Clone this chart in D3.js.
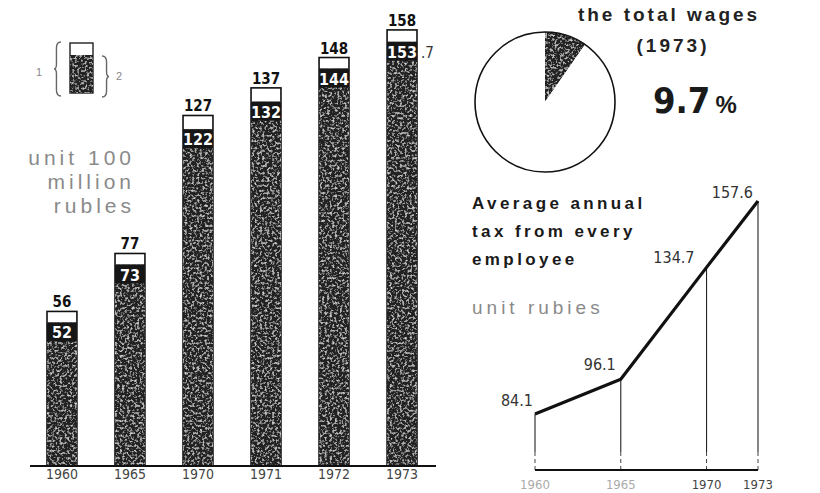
<!DOCTYPE html>
<html>
<head>
<meta charset="utf-8">
<script src="https://cdn.jsdelivr.net/npm/d3@7"></script>
<style>
  html, body { margin: 0; padding: 0; background: #fff; }
  svg { display: block; }
  .cond { font-family: "Liberation Sans Narrow", "DejaVu Sans Condensed", "Arial Narrow", sans-serif; }
  .sans { font-family: "Liberation Sans", Arial, Helvetica, sans-serif; }
</style>
</head>
<body>
<svg id="chart" width="820" height="493"></svg>
<script>
// ---------- data ----------
const years = ["1960", "1965", "1970", "1971", "1972", "1973"];
const totalTax = [56, 77, 127, 137, 148, 158];          // 1: total
const wageTax = [52, 73, 122, 132, 144, 153.7];         // 2: dark portion
const pieShares = [9.7, 90.3];                          // share of total wages (1973)
const lineYears = [1960, 1965, 1970, 1973];
const perEmployee = [84.1, 96.1, 134.7, 157.6];         // rubles per employee
const lineTickLabels = ["1960", "1965", "1970", "1973"];

const svg = d3.select("#chart");
const defs = svg.append("defs");

// grainy print texture for dark areas
const f = defs.append("filter").attr("id", "grain")
  .attr("x", 0).attr("y", 0).attr("width", "100%").attr("height", "100%");
f.append("feTurbulence").attr("type", "fractalNoise").attr("baseFrequency", 0.4)
  .attr("numOctaves", 3).attr("seed", 5).attr("result", "noise");
f.append("feColorMatrix").attr("in", "noise").attr("type", "matrix")
  .attr("values", "0 0 0 0 0.66  0 0 0 0 0.66  0 0 0 0 0.66  3.0 0 0 0 -1.5")
  .attr("result", "specks");
f.append("feComposite").attr("in", "specks").attr("in2", "SourceGraphic")
  .attr("operator", "in").attr("result", "clipped");
const fm = f.append("feMerge");
fm.append("feMergeNode").attr("in", "SourceGraphic");
fm.append("feMergeNode").attr("in", "clipped");

const DARK = "#242424";

// ---------- bar chart ----------
const x = d3.scaleBand().domain(years).range([47, 417]).paddingInner(0.56).paddingOuter(0);
const y = d3.scaleLinear().domain([0, 160]).range([466, 24.4]);
const bars = years.map((yr, i) => ({ yr, total: totalTax[i], inner: wageTax[i] }));

const bg = svg.append("g");
bg.selectAll("rect.tot").data(bars).join("rect").attr("class", "tot")
  .attr("x", d => x(d.yr)).attr("width", x.bandwidth())
  .attr("y", d => y(d.total)).attr("height", d => y(0) - y(d.total))
  .attr("fill", "#fff").attr("stroke", "#111").attr("stroke-width", 1.6);
bg.selectAll("rect.inn").data(bars).join("rect").attr("class", "inn")
  .attr("x", d => x(d.yr)).attr("width", x.bandwidth())
  .attr("y", d => y(d.inner)).attr("height", d => y(0) - y(d.inner))
  .attr("fill", DARK).attr("filter", "url(#grain)");
bg.selectAll("rect.lab").data(bars).join("rect").attr("class", "lab")
  .attr("x", d => x(d.yr)).attr("width", x.bandwidth())
  .attr("y", d => y(d.inner)).attr("height", 19)
  .attr("fill", "#161616");

// axis
const xAxis = d3.axisBottom(x).tickSize(0).tickPadding(0);
const ax = svg.append("g").attr("transform", `translate(0,${y(0)})`).call(xAxis);
ax.select(".domain").remove();
ax.selectAll("text").attr("class", "cond").style("font-size", "14px").attr("fill", "#444")
  .attr("y", 13).attr("dy", 0);
svg.append("line").attr("x1", 30).attr("x2", 436).attr("y1", y(0)).attr("y2", y(0))
  .attr("stroke", "#111").attr("stroke-width", 2);

// value labels
bg.selectAll("text.tot").data(bars).join("text").attr("class", "tot cond")
  .attr("x", d => x(d.yr) + x.bandwidth() / 2).attr("y", d => y(d.total) - 4)
  .attr("text-anchor", "middle").style("font-size", "15px").style("font-weight", "bold")
  .attr("fill", "#111").text(d => d.total);
bg.selectAll("text.inn").data(bars).join("text").attr("class", "inn cond")
  .attr("x", d => x(d.yr) + x.bandwidth() / 2).attr("y", d => y(d.inner) + 16)
  .attr("text-anchor", "middle").style("font-size", "16px").style("font-weight", "bold")
  .attr("fill", "#fff").text(d => Math.floor(d.inner));
bg.selectAll("text.frac").data(bars.filter(d => d.inner % 1 !== 0)).join("text")
  .attr("class", "frac cond")
  .attr("x", d => x(d.yr) + x.bandwidth() + 4).attr("y", d => y(d.inner) + 16)
  .style("font-size", "15px").attr("fill", "#333")
  .text(d => "." + String(d.inner).split(".")[1]);

// legend
function brace(xp, y0, y1, w) {
  const ym = (y0 + y1) / 2, xi = xp + w * 0.35;
  return `M${xp + w},${y0} Q${xi},${y0} ${xi},${y0 + 6} L${xi},${ym - 5} Q${xi},${ym} ${xp},${ym}` +
         ` Q${xi},${ym} ${xi},${ym + 5} L${xi},${y1 - 6} Q${xi},${y1} ${xp + w},${y1}`;
}
const lg = svg.append("g");
lg.append("rect").attr("x", 70).attr("y", 43).attr("width", 23).attr("height", 50)
  .attr("fill", "#fff").attr("stroke", "#222").attr("stroke-width", 1.4);
lg.append("rect").attr("x", 70).attr("y", 55).attr("width", 23).attr("height", 38)
  .attr("fill", DARK).attr("filter", "url(#grain)");
lg.append("path").attr("d", brace(54, 42, 96, 7)).attr("fill", "none").attr("stroke", "#666").attr("stroke-width", 1.4);
lg.append("path").attr("d", brace(109, 56, 97, -7)).attr("fill", "none").attr("stroke", "#666").attr("stroke-width", 1.4);
lg.append("text").attr("class", "sans").attr("x", 36).attr("y", 76).style("font-size", "11px").attr("fill", "#888").text("1");
lg.append("text").attr("class", "sans").attr("x", 116).attr("y", 80).style("font-size", "11px").attr("fill", "#888").text("2");

const unitLines = ["unit 100", "million", "rubles"];
svg.append("g").selectAll("text").data(unitLines).join("text").attr("class", "sans")
  .attr("x", 135).attr("y", (d, i) => 165 + i * 24).attr("text-anchor", "end")
  .style("font-size", "21px").style("font-weight", "300").style("letter-spacing", "4px")
  .attr("fill", "#8a8a8a").text(d => d);

// ---------- pie ----------
const pie = d3.pie().sort(null).startAngle(0).endAngle(2 * Math.PI)(pieShares);
const arc = d3.arc().innerRadius(0).outerRadius(70);
const pg = svg.append("g").attr("transform", "translate(545,102)");
pg.selectAll("path").data(pie).join("path").attr("d", arc)
  .attr("fill", (d, i) => i === 0 ? DARK : "#fff")
  .attr("filter", (d, i) => i === 0 ? "url(#grain)" : null);
pg.append("circle").attr("r", 70).attr("fill", "none").attr("stroke", "#111").attr("stroke-width", 1.6);

svg.append("text").attr("class", "sans").attr("x", 669).attr("y", 21).attr("text-anchor", "middle")
  .style("font-size", "19px").style("font-weight", "bold").style("letter-spacing", "3px")
  .attr("fill", "#222").text("the total wages");
svg.append("text").attr("class", "sans").attr("x", 673).attr("y", 52).attr("text-anchor", "middle")
  .style("font-size", "19px").style("font-weight", "bold").style("letter-spacing", "3px")
  .attr("fill", "#222").text("(1973)");
const pct = svg.append("text").attr("x", 653).attr("y", 113).attr("fill", "#1a1a1a");
pct.append("tspan").attr("class", "cond").style("font-size", "36px").style("font-weight", "bold").text(pieShares[0]);
pct.append("tspan").attr("class", "sans").attr("dx", 5).style("font-size", "24px").style("font-weight", "bold").text("%");

// ---------- line chart ----------
const lx = d3.scaleLinear().domain([1960, 1973]).range([535, 758]);
const ly = d3.scaleLinear().domain([84.1, 157.6]).range([414, 201]);
const pts = lineYears.map((yr, i) => ({ yr, v: perEmployee[i], lab: lineTickLabels[i] }));
const baseY = 470, breakY = 452;

const lg2 = svg.append("g");
lg2.selectAll("line.drop").data(pts).join("line").attr("class", "drop")
  .attr("x1", d => lx(d.yr)).attr("x2", d => lx(d.yr))
  .attr("y1", d => ly(d.v)).attr("y2", breakY)
  .attr("stroke", "#222").attr("stroke-width", 1.1);
lg2.selectAll("line.dash").data(pts).join("line").attr("class", "dash")
  .attr("x1", d => lx(d.yr)).attr("x2", d => lx(d.yr))
  .attr("y1", breakY).attr("y2", baseY)
  .attr("stroke", "#444").attr("stroke-width", 1).attr("stroke-dasharray", "4,3");
lg2.append("line").attr("x1", lx(1960)).attr("x2", lx(1973)).attr("y1", baseY).attr("y2", baseY)
  .attr("stroke", "#111").attr("stroke-width", 2);
lg2.append("path").datum(pts)
  .attr("d", d3.line().x(d => lx(d.yr)).y(d => ly(d.v)))
  .attr("fill", "none").attr("stroke", "#111").attr("stroke-width", 3.2).attr("stroke-linejoin", "round");

const labOff = [[-2, -8], [-5, -9], [-12, -4], [-5, -3]];
lg2.selectAll("text.val").data(pts).join("text").attr("class", "val cond")
  .attr("x", (d, i) => lx(d.yr) + labOff[i][0]).attr("y", (d, i) => ly(d.v) + labOff[i][1])
  .attr("text-anchor", "end").style("font-size", "16px").attr("fill", "#333")
  .text(d => d.v.toFixed(1));
lg2.selectAll("text.tick").data(pts).join("text").attr("class", "tick cond")
  .attr("x", d => lx(d.yr)).attr("y", 489).attr("text-anchor", "middle")
  .style("font-size", "13px").attr("fill", (d, i) => i < 2 ? "#aaa" : "#444")
  .text(d => d.lab);

svg.append("g").selectAll("text").data(["Average annual", "tax from every", "employee"]).join("text")
  .attr("class", "sans").attr("x", 472).attr("y", (d, i) => 209 + i * 28)
  .style("font-size", "17px").style("font-weight", "bold").style("letter-spacing", "3.4px")
  .attr("fill", "#1a1a1a").text(d => d);
svg.append("text").attr("class", "sans").attr("x", 472).attr("y", 314)
  .style("font-size", "19px").style("letter-spacing", "4px").attr("fill", "#8a8a8a").text("unit rubies");
</script>
</body>
</html>
